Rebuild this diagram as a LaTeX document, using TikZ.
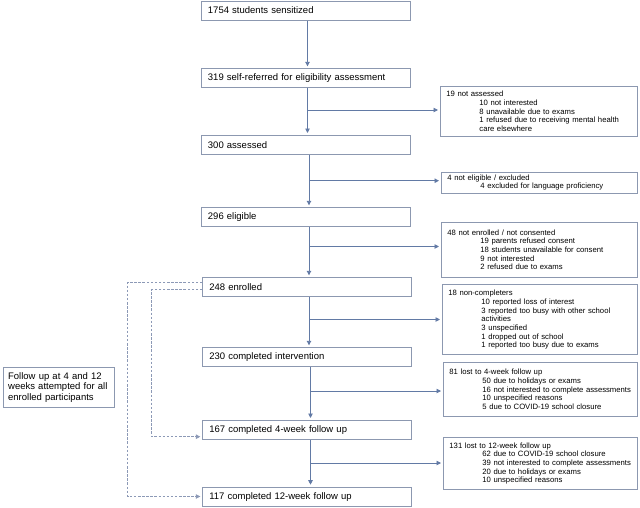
\documentclass[tikz,border=0pt]{standalone}
\usepackage{fontspec}
\setmainfont{Liberation Sans}
\usetikzlibrary{arrows.meta}
\definecolor{linec}{RGB}{98,122,165}
\definecolor{boxc}{RGB}{140,152,176}
\definecolor{dashc}{RGB}{140,153,182}
\begin{document}
\begin{tikzpicture}[x=1pt,y=-1pt,
  mainbox/.style={draw=boxc, line width=0.9pt, anchor=north west,
    text width=196pt, minimum height=19pt, inner xsep=6.5pt, inner ysep=0pt,
    align=left, font=\fontsize{9.5}{11}\selectfont},
  sidebox/.style={draw=boxc, line width=0.9pt, anchor=north west,
    inner xsep=6pt, inner ysep=0pt, align=left,
    font=\fontsize{7.7}{8.7}\selectfont},
  notebox/.style={draw=boxc, line width=0.9pt, anchor=north west,
    text width=101pt, minimum height=40pt, inner xsep=5pt, inner ysep=0pt,
    align=left, font=\fontsize{9.5}{10.8}\selectfont},
  arr/.style={draw=linec, line width=0.9pt, -{Triangle[width=4.5pt,length=4.5pt]}, shorten >=2pt},
  dasharr/.style={draw=dashc, line width=0.7pt, dash pattern=on 2.5pt off 1.6pt,
    -{Triangle[width=4.5pt,length=4.5pt]}, shorten >=2pt}]
\useasboundingbox (0,0) rectangle (640,507);

% main column
\node[mainbox] (b1) at (201,0.6) {1754 students sensitized};
\node[mainbox] (b2) at (201,68.3) {319 self-referred for eligibility assessment};
\node[mainbox] (b3) at (201,135) {300 assessed};
\node[mainbox] (b4) at (201,207.3) {296 eligible};
\node[mainbox] (b5) at (202.3,277.3) {248 enrolled};
\node[mainbox] (b6) at (202.3,347.3) {230 completed intervention};
\node[mainbox] (b7) at (202.3,420) {167 completed 4-week follow up};
\node[mainbox] (b8) at (202.3,486.7) {117 completed 12-week follow up};

% side boxes
\def\ind{\hspace*{33pt}}
\node[sidebox, text width=185pt, minimum height=50pt] (sA) at (440,86)
  {19 not assessed\\\ind 10 not interested\\\ind 8 unavailable due to exams\\\ind 1 refused due to receiving mental health\\\ind care elsewhere};
\node[sidebox, text width=184pt, minimum height=21pt] (sB) at (441,171.7)
  {4 not eligible / excluded\\\ind 4 excluded for language proficiency};
\node[sidebox, text width=184pt, minimum height=55pt] (sC) at (441,221.7)
  {48 not enrolled / not consented\\\ind 19 parents refused consent\\\ind 18 students unavailable for consent\\\ind 9 not interested\\\ind 2 refused due to exams};
\node[sidebox, text width=183pt, minimum height=70pt] (sD) at (442,284.3)
  {18 non-completers\\\ind 10 reported loss of interest\\\ind 3 reported too busy with other school\\\ind activities\\\ind 3 unspecified\\\ind 1 dropped out of school\\\ind 1 reported too busy due to exams};
\node[sidebox, text width=182pt, minimum height=53.4pt] (sE) at (443,362.3)
  {81 lost to 4-week follow up\\\ind 50 due to holidays or exams\\\ind 16 not interested to complete assessments\\\ind 10 unspecified reasons\\\ind 5 due to COVID-19 school closure};
\node[sidebox, text width=182pt, minimum height=52.6pt] (sF) at (443,436.7)
  {131 lost to 12-week follow up\\\ind 62 due to COVID-19 school closure\\\ind 39 not interested to complete assessments\\\ind 20 due to holidays or exams\\\ind 10 unspecified reasons};

% note box
\node[notebox] (note) at (2.7,367)
  {Follow up at 4 and 12\\weeks attempted for all\\enrolled participants};

% spine junctions
\coordinate (jA) at (307.5,110);
\coordinate (jB) at (309,180.7);
\coordinate (jC) at (309,246.5);
\coordinate (jD) at (309,319.5);
\coordinate (jE) at (310.5,391);
\coordinate (jF) at (310.5,463);

% vertical arrows
\draw[arr] (b1.south -| jA) -- (b2.north -| jA);
\draw[arr] (b2.south -| jA) -- (b3.north -| jA);
\draw[arr] (b3.south -| jB) -- (b4.north -| jB);
\draw[arr] (b4.south -| jC) -- (b5.north -| jC);
\draw[arr] (b5.south -| jD) -- (b6.north -| jD);
\draw[arr] (b6.south -| jE) -- (b7.north -| jE);
\draw[arr] (b7.south -| jF) -- (b8.north -| jF);

% side arrows
\draw[arr] (jA) -- (sA.west |- jA);
\draw[arr] (jB) -- (sB.west |- jB);
\draw[arr] (jC) -- (sC.west |- jC);
\draw[arr] (jD) -- (sD.west |- jD);
\draw[arr] (jE) -- (sE.west |- jE);
\draw[arr] (jF) -- (sF.west |- jF);

% dashed follow-up lines
\coordinate (oTop) at (127.5,282.5);
\coordinate (oBot) at (127.5,496.5);
\coordinate (iTop) at (151.5,289.5);
\coordinate (iBot) at (151.5,436.7);
\draw[dasharr] (b5.west |- oTop) -- (oTop) -- (oBot) -- (b8.west |- oBot);
\draw[dasharr] (b5.west |- iTop) -- (iTop) -- (iBot) -- (b7.west |- iBot);
\end{tikzpicture}
\end{document}
